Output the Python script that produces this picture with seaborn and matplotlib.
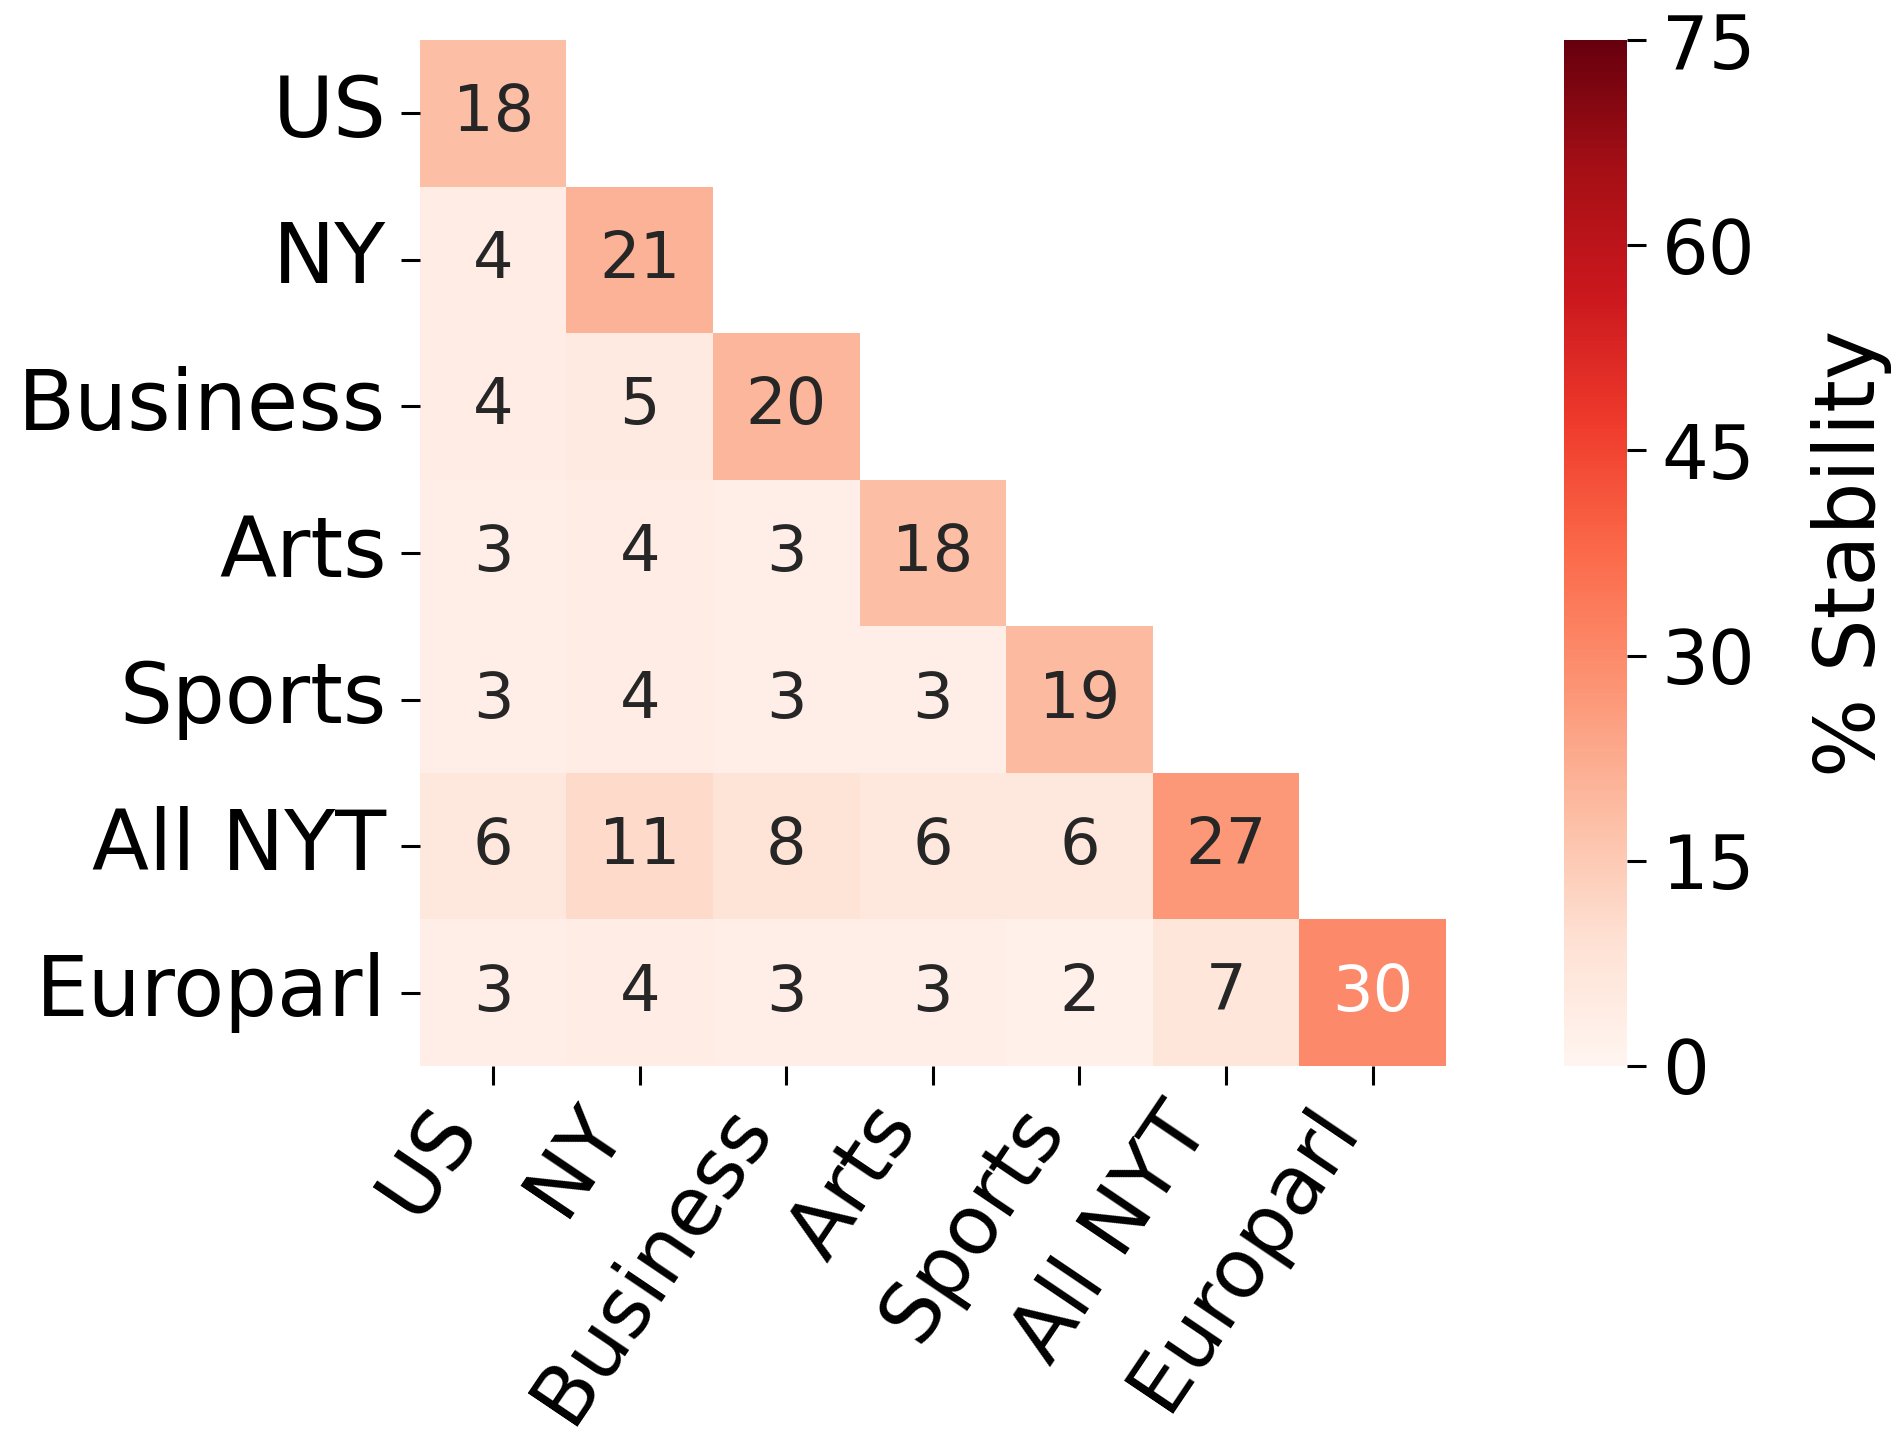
import numpy as np
import matplotlib
matplotlib.use("Agg")
import matplotlib.pyplot as plt
import seaborn as sns

# domains (rows and columns are the same)
domains = ["US", "NY", "Business", "Arts", "Sports", "All NYT", "Europarl"]

# lower triangle of % stability, row by row
row_us = [18]
row_ny = [4, 21]
row_business = [4, 5, 20]
row_arts = [3, 4, 3, 18]
row_sports = [3, 4, 3, 3, 19]
row_allnyt = [6, 11, 8, 6, 6, 27]
row_europarl = [3, 4, 3, 3, 2, 7, 30]

cbar_ticks = [0, 15, 30, 45, 60, 75]

rows = [row_us, row_ny, row_business, row_arts, row_sports, row_allnyt, row_europarl]
n = len(domains)
mat = np.full((n, n), np.nan)
for i, r in enumerate(rows):
    mat[i, :len(r)] = r
mask = np.triu(np.ones((n, n), dtype=bool), k=1)

fig = plt.figure(figsize=(19, 14.45), dpi=100)
ax = fig.add_axes([0.221, 0.2623, 0.540, 0.710])
cax = fig.add_axes([0.8232, 0.2623, 0.0331, 0.710])

sns.heatmap(mat, mask=mask, cmap="Reds", vmin=0, vmax=75, annot=True, fmt=".0f",
            annot_kws={"size": 46}, xticklabels=domains, yticklabels=domains,
            ax=ax, cbar_ax=cax, cbar_kws={"ticks": cbar_ticks})

ax.tick_params(axis="y", length=14, width=2.2, labelsize=60, pad=10)
ax.tick_params(axis="x", length=14, width=2.2, labelsize=59, pad=5)
ax.set_xticklabels(domains, rotation=56, ha="right", rotation_mode="default")
ax.set_yticklabels(domains, rotation=0)

cax.tick_params(length=14, width=2.2, labelsize=53, pad=11)
cax.set_ylabel("% Stability", fontsize=60, labelpad=40)

fig.savefig("out.png", dpi=100)
